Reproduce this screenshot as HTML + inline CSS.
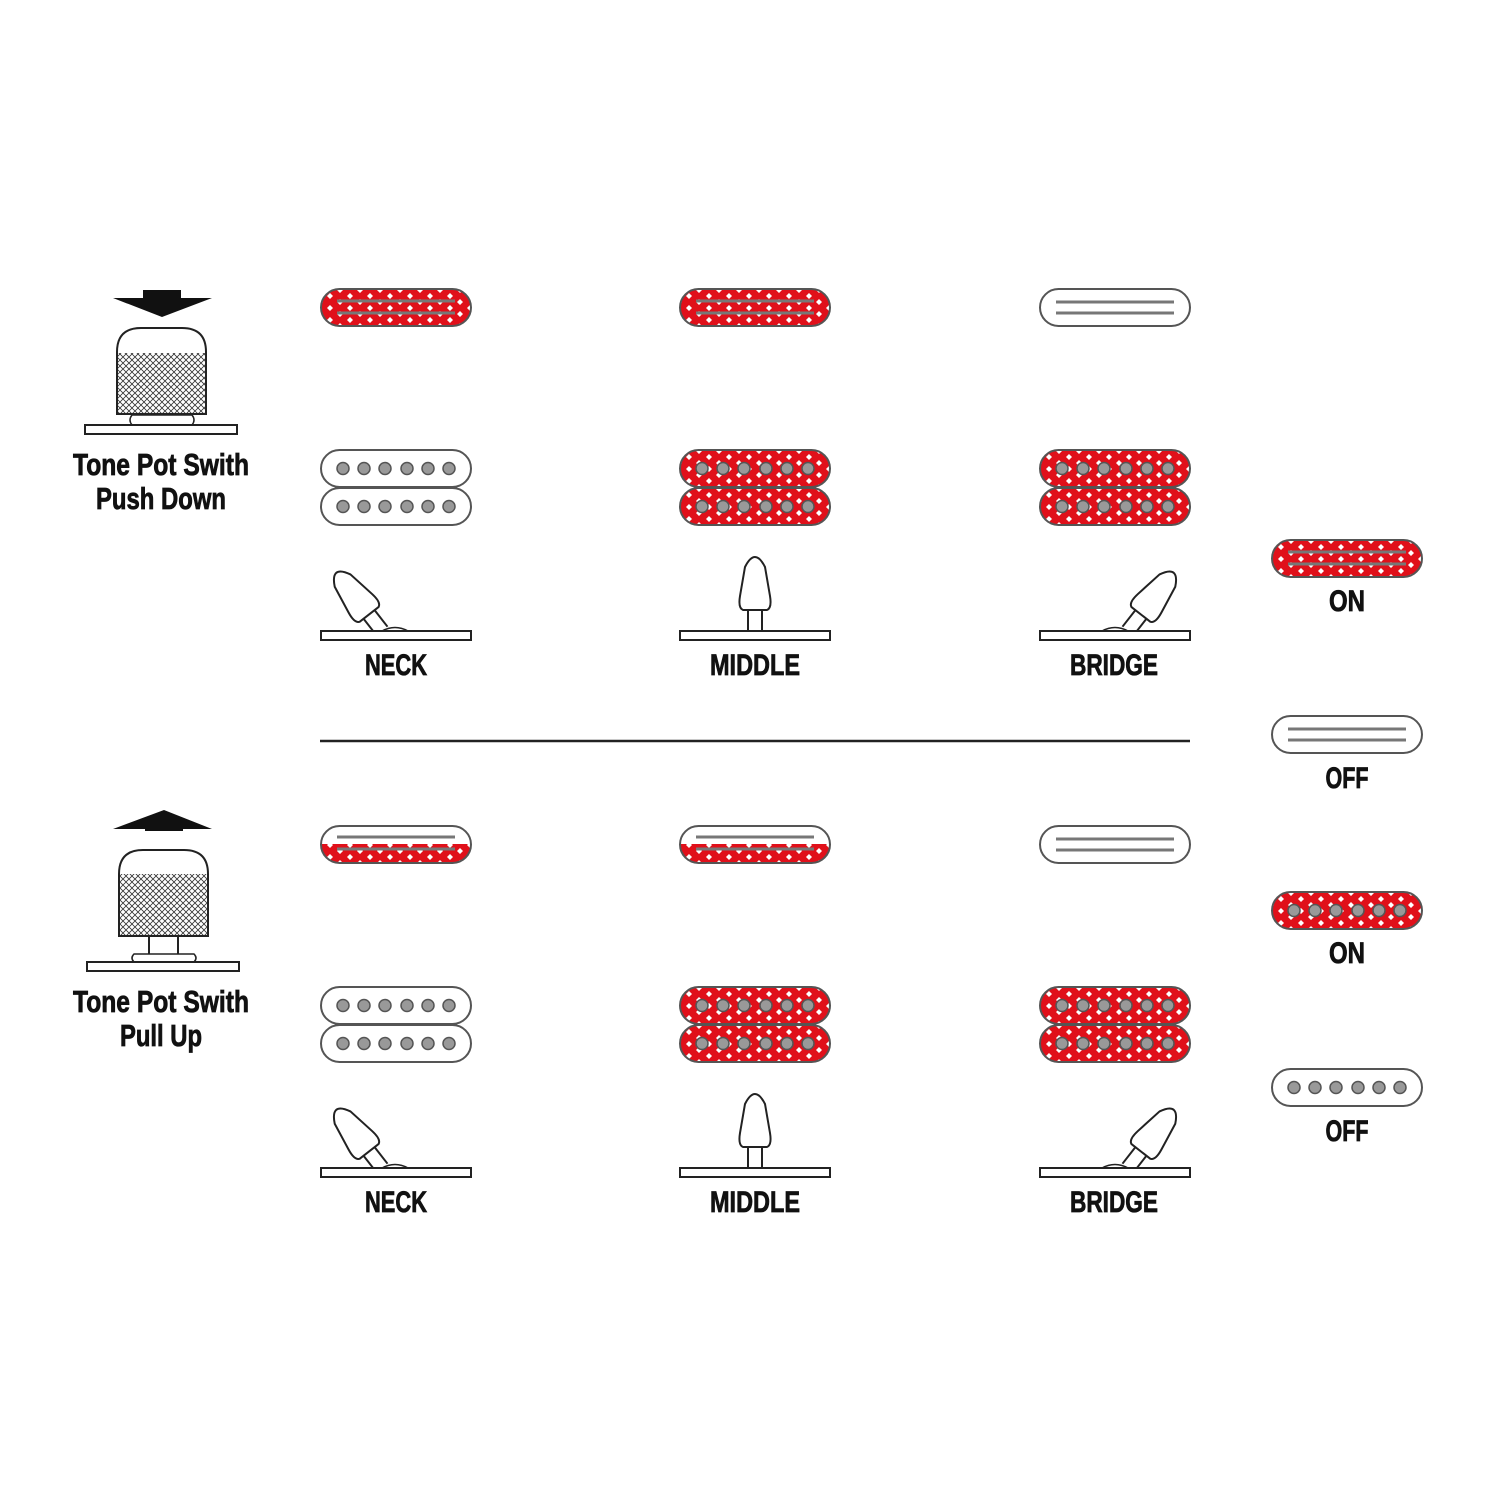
<!DOCTYPE html>
<html><head><meta charset="utf-8"><style>
html,body{margin:0;padding:0;background:#fff}
svg{display:block}
text{font-family:"Liberation Sans Narrow","Liberation Sans",sans-serif;font-weight:bold;fill:#111;stroke:#111;stroke-width:0.8}
</style></head><body>
<svg width="1500" height="1500" viewBox="0 0 1500 1500" xmlns="http://www.w3.org/2000/svg">
<defs>
  <pattern id="dia" x="4" y="1" width="20" height="12" patternUnits="userSpaceOnUse">
    <rect width="20" height="12" fill="#e0101a"/>
    <path d="M5,3 L8,6 L5,9 L2,6Z" fill="#fff"/>
    <path d="M15,-3 L18,0 L15,3 L12,0Z M15,9 L18,12 L15,15 L12,12Z" fill="#fff"/>
  </pattern>
  <pattern id="knurl" width="6" height="6" patternUnits="userSpaceOnUse">
    <rect width="6" height="6" fill="#fff"/>
    <path d="M0,0 L6,6 M6,0 L0,6" stroke="#333" stroke-width="0.8"/>
  </pattern>
  <clipPath id="pk"><rect x="0" y="0" width="150" height="37" rx="18.5"/></clipPath>
  <g id="railOn">
    <rect x="0" y="0" width="150" height="37" rx="18.5" fill="url(#dia)" stroke="#555" stroke-width="2"/>
    <line x1="16" y1="12" x2="134" y2="12" stroke="#777" stroke-width="3"/>
    <line x1="16" y1="24" x2="134" y2="24" stroke="#777" stroke-width="3"/>
  </g>
  <g id="railOff">
    <rect x="0" y="0" width="150" height="37" rx="18.5" fill="#fff" stroke="#555" stroke-width="2"/>
    <line x1="16" y1="13" x2="134" y2="13" stroke="#777" stroke-width="3"/>
    <line x1="16" y1="24" x2="134" y2="24" stroke="#777" stroke-width="3"/>
  </g>
  <g id="railHalf">
    <rect x="0" y="0" width="150" height="37" rx="18.5" fill="#fff"/>
    <rect x="0" y="18" width="150" height="19" fill="url(#dia)" clip-path="url(#pk)"/>
    <rect x="0" y="0" width="150" height="37" rx="18.5" fill="none" stroke="#555" stroke-width="2"/>
    <line x1="16" y1="11" x2="134" y2="11" stroke="#777" stroke-width="3"/>
    <line x1="16" y1="23" x2="134" y2="23" stroke="#777" stroke-width="3"/>
  </g>
  <g id="poles">
    <circle cx="22" cy="18.5" r="6" fill="#999" stroke="#555" stroke-width="1.5"/>
    <circle cx="43" cy="18.5" r="6" fill="#999" stroke="#555" stroke-width="1.5"/>
    <circle cx="64" cy="18.5" r="6" fill="#999" stroke="#555" stroke-width="1.5"/>
    <circle cx="86" cy="18.5" r="6" fill="#999" stroke="#555" stroke-width="1.5"/>
    <circle cx="107" cy="18.5" r="6" fill="#999" stroke="#555" stroke-width="1.5"/>
    <circle cx="128" cy="18.5" r="6" fill="#999" stroke="#555" stroke-width="1.5"/>
  </g>
  <g id="scOff">
    <rect x="0" y="0" width="150" height="37" rx="18.5" fill="#fff" stroke="#555" stroke-width="2"/>
    <use href="#poles"/>
  </g>
  <g id="scOn">
    <rect x="0" y="0" width="150" height="37" rx="18.5" fill="url(#dia)" stroke="#555" stroke-width="2"/>
    <use href="#poles"/>
  </g>
  <g id="humOff"><use href="#scOff"/><use href="#scOff" y="38"/></g>
  <g id="humOn"><use href="#scOn"/><use href="#scOn" y="38"/></g>
  <g id="lever" fill="#fff" stroke="#222" stroke-width="2">
    <path d="M-7,0 L-7,-21 M7,0 L7,-21"/>
    <path d="M-12,-21 Q-17,-23 -15,-35 L-10,-64 Q0,-84 10,-64 L15,-35 Q17,-23 12,-21 Z"/>
  </g>
  <g id="plate"><rect x="0" y="0" width="150" height="9" fill="#fff" stroke="#222" stroke-width="2"/></g>
</defs>

<use href="#railOn" x="321" y="289"/>
<use href="#railOn" x="680" y="289"/>
<use href="#railOff" x="1040" y="289"/>
<use href="#humOff" x="321" y="450"/>
<use href="#humOn" x="680" y="450"/>
<use href="#humOn" x="1040" y="450"/>

<g transform="translate(382,631) rotate(-38)"><use href="#lever"/></g>
<path d="M382,631 Q395,624 408,631" fill="#fff" stroke="#222" stroke-width="1.5"/>
<use href="#plate" x="321" y="631"/>
<g transform="translate(755,631)"><use href="#lever"/></g>
<use href="#plate" x="680" y="631"/>
<g transform="translate(1128,631) rotate(38)"><use href="#lever"/></g>
<path d="M1102,631 Q1115,624 1128,631" fill="#fff" stroke="#222" stroke-width="1.5"/>
<use href="#plate" x="1040" y="631"/>

<text x="396" y="675" text-anchor="middle" font-size="30" textLength="62" lengthAdjust="spacingAndGlyphs">NECK</text>
<text x="755" y="675" text-anchor="middle" font-size="30" textLength="90" lengthAdjust="spacingAndGlyphs">MIDDLE</text>
<text x="1114" y="675" text-anchor="middle" font-size="30" textLength="88" lengthAdjust="spacingAndGlyphs">BRIDGE</text>

<line x1="320" y1="741" x2="1190" y2="741" stroke="#222" stroke-width="2.5"/>

<use href="#railHalf" x="321" y="826"/>
<use href="#railHalf" x="680" y="826"/>
<use href="#railOff" x="1040" y="826"/>
<use href="#humOff" x="321" y="987"/>
<use href="#humOn" x="680" y="987"/>
<use href="#humOn" x="1040" y="987"/>

<g transform="translate(382,1168) rotate(-38)"><use href="#lever"/></g>
<path d="M382,1168 Q395,1161 408,1168" fill="#fff" stroke="#222" stroke-width="1.5"/>
<use href="#plate" x="321" y="1168"/>
<g transform="translate(755,1168)"><use href="#lever"/></g>
<use href="#plate" x="680" y="1168"/>
<g transform="translate(1128,1168) rotate(38)"><use href="#lever"/></g>
<path d="M1102,1168 Q1115,1161 1128,1168" fill="#fff" stroke="#222" stroke-width="1.5"/>
<use href="#plate" x="1040" y="1168"/>

<text x="396" y="1212" text-anchor="middle" font-size="30" textLength="62" lengthAdjust="spacingAndGlyphs">NECK</text>
<text x="755" y="1212" text-anchor="middle" font-size="30" textLength="90" lengthAdjust="spacingAndGlyphs">MIDDLE</text>
<text x="1114" y="1212" text-anchor="middle" font-size="30" textLength="88" lengthAdjust="spacingAndGlyphs">BRIDGE</text>

<use href="#railOn" x="1272" y="540"/>
<text x="1347" y="611" text-anchor="middle" font-size="30" textLength="36" lengthAdjust="spacingAndGlyphs">ON</text>
<use href="#railOff" x="1272" y="716"/>
<text x="1347" y="788" text-anchor="middle" font-size="30" textLength="43" lengthAdjust="spacingAndGlyphs">OFF</text>
<use href="#scOn" x="1272" y="892"/>
<text x="1347" y="963" text-anchor="middle" font-size="30" textLength="36" lengthAdjust="spacingAndGlyphs">ON</text>
<use href="#scOff" x="1272" y="1069"/>
<text x="1347" y="1141" text-anchor="middle" font-size="30" textLength="43" lengthAdjust="spacingAndGlyphs">OFF</text>

<path d="M143,290 L181,290 L181,298 L212,298 L162,317 L113,298 L143,298 Z" fill="#111"/>
<path d="M117,414 L117,352 Q117,328 141,328 L182,328 Q206,328 206,352 L206,414 Z" fill="#fff" stroke="#222" stroke-width="2"/>
<rect x="118" y="353" width="87" height="60" fill="url(#knurl)"/>
<path d="M132,415 L192,415 Q196,420 192,425 L132,425 Q128,420 132,415Z" fill="#fff" stroke="#222" stroke-width="1.5"/>
<rect x="85" y="425" width="152" height="9" fill="#fff" stroke="#222" stroke-width="2"/>
<text x="161" y="475" text-anchor="middle" font-size="31" textLength="176" lengthAdjust="spacingAndGlyphs">Tone Pot Swith</text>
<text x="161" y="509" text-anchor="middle" font-size="31" textLength="130" lengthAdjust="spacingAndGlyphs">Push Down</text>

<path d="M113,829 L164,810 L212,829 Z" fill="#111"/>
<rect x="145" y="826" width="38" height="5" fill="#111"/>
<path d="M119,936 L119,874 Q119,850 143,850 L184,850 Q208,850 208,874 L208,936 Z" fill="#fff" stroke="#222" stroke-width="2"/>
<rect x="120" y="874" width="87" height="61" fill="url(#knurl)"/>
<path d="M149,937 L149,955 M178,937 L178,955" stroke="#222" stroke-width="2"/>
<path d="M134,954 L194,954 Q198,958 194,962 L134,962 Q130,958 134,954Z" fill="#fff" stroke="#222" stroke-width="1.5"/>
<rect x="87" y="962" width="152" height="9" fill="#fff" stroke="#222" stroke-width="2"/>
<text x="161" y="1012" text-anchor="middle" font-size="31" textLength="176" lengthAdjust="spacingAndGlyphs">Tone Pot Swith</text>
<text x="161" y="1046" text-anchor="middle" font-size="31" textLength="82" lengthAdjust="spacingAndGlyphs">Pull Up</text>
</svg>
</body></html>
